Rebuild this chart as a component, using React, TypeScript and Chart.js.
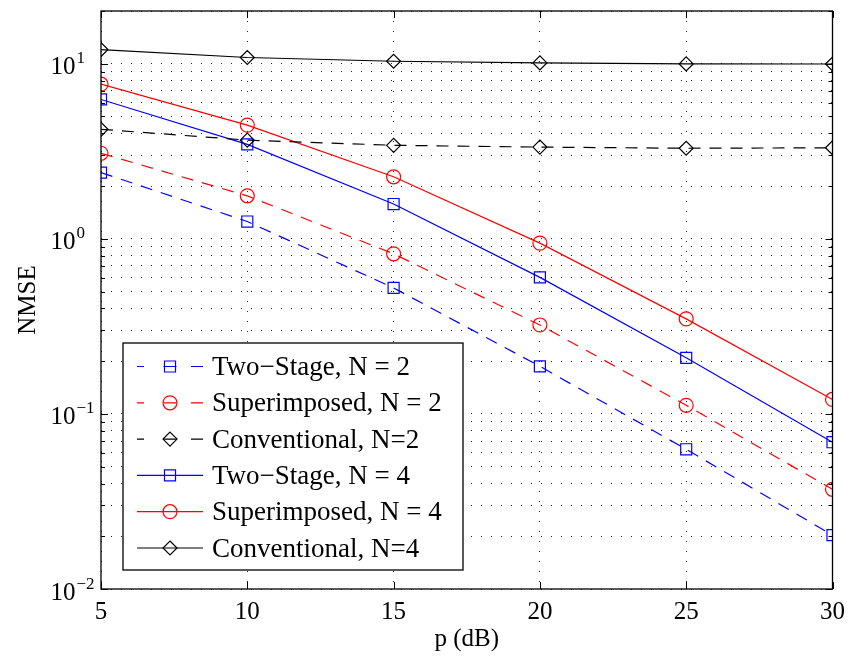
import React, { useEffect, useRef } from 'react';
import { Chart, registerables } from 'chart.js';

Chart.register(...registerables);

// ---- Data ----
const P_DB = [5, 10, 15, 20, 25, 30];
const TWO_STAGE_N2 = [2.39, 1.255, 0.524, 0.187, 0.0628, 0.0203];
const SUPERIMPOSED_N2 = [3.08, 1.76, 0.821, 0.322, 0.112, 0.0371];
const CONVENTIONAL_N2 = [4.22, 3.66, 3.42, 3.34, 3.29, 3.31];
const TWO_STAGE_N4 = [6.25, 3.46, 1.58, 0.602, 0.209, 0.0689];
const SUPERIMPOSED_N4 = [7.64, 4.46, 2.26, 0.945, 0.349, 0.121];
const CONVENTIONAL_N4 = [12.05, 10.85, 10.33, 10.11, 9.97, 9.96];

const SERIES_LABELS = [
  'Two\u2212Stage, N = 2',
  'Superimposed, N = 2',
  'Conventional, N=2',
  'Two\u2212Stage, N = 4',
  'Superimposed, N = 4',
  'Conventional, N=4',
];

const X_MIN = 5;
const X_MAX = 30;
const X_STEP = 5;
const Y_MIN = 0.01;
const Y_MAX = 20;
const Y_DECADES = [-2, -1, 0, 1];
const Y_LABEL_EXP = ['\u22122', '\u22121', '0', '1'];
const X_TITLE = 'p (dB)';
const Y_TITLE = 'NMSE';

const FONT = '"Liberation Serif", "Times New Roman", serif';

// grid positions for the log axis (1..9 per decade)
const Y_GRID: { value: number; major: boolean }[] = [];
Y_DECADES.forEach((d) => {
  for (let m = 1; m <= 9; m++) {
    const v = Number((m * Math.pow(10, d)).toPrecision(6));
    if (v >= Y_MIN && v <= Y_MAX) Y_GRID.push({ value: v, major: m === 1 });
  }
});
if (Y_GRID[Y_GRID.length - 1].value < Y_MAX) Y_GRID.push({ value: Y_MAX, major: false });

const DASH = [12, 9];

function drawMarker(ctx: CanvasRenderingContext2D, style: string, x: number, y: number, r: number) {
  ctx.beginPath();
  if (style === 'circle') {
    ctx.arc(x, y, r, 0, Math.PI * 2);
  } else if (style === 'rect') {
    const h = r * Math.SQRT1_2;
    ctx.rect(x - h, y - h, 2 * h, 2 * h);
  } else {
    ctx.moveTo(x, y - r);
    ctx.lineTo(x + r, y);
    ctx.lineTo(x, y + r);
    ctx.lineTo(x - r, y);
    ctx.closePath();
  }
  ctx.stroke();
}

const framePlugin = {
  id: 'frameAndLabels',
  afterDraw(chart: any) {
    const { ctx, chartArea } = chart;
    const ys = chart.scales.y;
    const xs = chart.scales.x;
    const { left, right, top, bottom } = chartArea;
    ctx.save();
    // inside ticks
    ctx.strokeStyle = '#000';
    ctx.lineWidth = 1;
    ctx.setLineDash([]);
    ctx.beginPath();
    Y_GRID.forEach((t) => {
      const y = Math.round(ys.getPixelForValue(t.value)) + 0.5;
      const len = t.major ? 7 : 4;
      ctx.moveTo(left, y);
      ctx.lineTo(left + len, y);
      ctx.moveTo(right, y);
      ctx.lineTo(right - len, y);
    });
    for (let v = X_MIN; v <= X_MAX; v += X_STEP) {
      const x = Math.round(xs.getPixelForValue(v)) + 0.5;
      ctx.moveTo(x, bottom);
      ctx.lineTo(x, bottom - 7);
      ctx.moveTo(x, top);
      ctx.lineTo(x, top + 7);
    }
    ctx.stroke();
    // box
    ctx.lineWidth = 1.3;
    ctx.strokeRect(left, top, right - left, bottom - top);

    // y tick labels with superscripts
    ctx.fillStyle = '#000';
    Y_DECADES.forEach((d, i) => {
      const y = ys.getPixelForValue(Math.pow(10, d));
      ctx.font = `25px ${FONT}`;
      ctx.textAlign = 'right';
      ctx.textBaseline = 'alphabetic';
      ctx.fillText('10', left - 25.5, y + 10.5);
      ctx.font = `17px ${FONT}`;
      ctx.textAlign = 'left';
      ctx.fillText(Y_LABEL_EXP[i], left - 24.5, y - 0.5);
    });

    // legend
    const x0 = 123, y0 = 343, x1 = 463, y1 = 570;
    ctx.fillStyle = '#fff';
    ctx.fillRect(x0, y0, x1 - x0, y1 - y0);
    ctx.strokeStyle = '#000';
    ctx.lineWidth = 1.3;
    ctx.strokeRect(x0, y0, x1 - x0, y1 - y0);
    const sx0 = 137, sx1 = 203, mx = 170;
    chart.data.datasets.forEach((ds: any, i: number) => {
      const y = 366.5 + i * 36.3;
      ctx.strokeStyle = ds.borderColor;
      ctx.lineWidth = ds.borderWidth;
      ctx.beginPath();
      if (ds.borderDash && ds.borderDash.length) {
        ctx.moveTo(sx0, y); ctx.lineTo(sx0 + 7, y);
        ctx.moveTo(mx - 6.5, y); ctx.lineTo(mx + 6.5, y);
        ctx.moveTo(sx1 - 12, y); ctx.lineTo(sx1, y);
      } else {
        ctx.moveTo(sx0, y); ctx.lineTo(sx1, y);
      }
      ctx.stroke();
      ctx.lineWidth = ds.pointBorderWidth;
      drawMarker(ctx, ds.pointStyle, mx, y, ds.pointRadius);
      ctx.fillStyle = '#000';
      ctx.font = `27px ${FONT}`;
      ctx.textAlign = 'left';
      ctx.textBaseline = 'alphabetic';
      ctx.fillText(ds.label, 212, y + 8.5);
    });
    ctx.restore();
  },
};

function mkDataset(label: string, data: number[], color: string, style: string, dashed: boolean, radius: number) {
  return {
    label,
    data: P_DB.map((x, i) => ({ x, y: data[i] })),
    borderColor: color,
    backgroundColor: 'rgba(0,0,0,0)',
    borderWidth: 1.2,
    borderDash: dashed ? DASH : [],
    pointStyle: style,
    pointRadius: radius,
    pointBorderWidth: 1.2,
    pointBorderColor: color,
    pointBackgroundColor: 'rgba(0,0,0,0)',
    tension: 0,
    fill: false,
  };
}

export default function App() {
  const ref = useRef<HTMLCanvasElement | null>(null);
  useEffect(() => {
    document.body.style.margin = '0';
    if (!ref.current) return;
    const chart = new Chart(ref.current, {
      type: 'line',
      data: {
        datasets: [
          mkDataset(SERIES_LABELS[0], TWO_STAGE_N2, '#0000ff', 'rect', true, 7.8),
          mkDataset(SERIES_LABELS[1], SUPERIMPOSED_N2, '#ff0000', 'circle', true, 7),
          mkDataset(SERIES_LABELS[2], CONVENTIONAL_N2, '#000000', 'rectRot', true, 7),
          mkDataset(SERIES_LABELS[3], TWO_STAGE_N4, '#0000ff', 'rect', false, 7.8),
          mkDataset(SERIES_LABELS[4], SUPERIMPOSED_N4, '#ff0000', 'circle', false, 7),
          mkDataset(SERIES_LABELS[5], CONVENTIONAL_N4, '#000000', 'rectRot', false, 7),
        ],
      },
      options: {
        responsive: false,
        devicePixelRatio: 1,
        animation: false,
        layout: { padding: { left: 0, right: 18, top: 11, bottom: 0 } },
        plugins: { legend: { display: false }, tooltip: { enabled: false } },
        scales: {
          x: {
            type: 'linear',
            min: X_MIN,
            max: X_MAX,
            afterFit: (s: any) => { s.height = 68; },
            ticks: {
              stepSize: X_STEP,
              color: '#000',
              font: { family: FONT, size: 25 },
              padding: 8,
              maxRotation: 0,
            },
            grid: { color: 'rgba(0,0,0,0.85)', lineWidth: 1, drawTicks: false },
            border: { display: false, dash: [1, 9] },
            title: {
              display: true,
              text: X_TITLE,
              color: '#000',
              font: { family: FONT, size: 25 },
              padding: { top: 0, bottom: 3 },
            },
          },
          y: {
            type: 'logarithmic',
            min: Y_MIN,
            max: Y_MAX,
            afterFit: (s: any) => { s.width = 101; },
            afterBuildTicks: (s: any) => { s.ticks = Y_GRID.map((t) => ({ value: t.value, major: t.major })); },
            ticks: { callback: () => '', autoSkip: false },
            grid: { color: 'rgba(0,0,0,0.85)', lineWidth: 1, drawTicks: false },
            border: { display: false, dash: [1, 9] },
            title: {
              display: true,
              text: Y_TITLE,
              color: '#000',
              font: { family: FONT, size: 25 },
              padding: { top: 13, bottom: 0 },
            },
          },
        },
      },
      plugins: [framePlugin],
    });
    return () => chart.destroy();
  }, []);
  return (
    <div style={{ width: 853, height: 657 }}>
      <canvas ref={ref} width={853} height={657} style={{ display: 'block' }} />
    </div>
  );
}
